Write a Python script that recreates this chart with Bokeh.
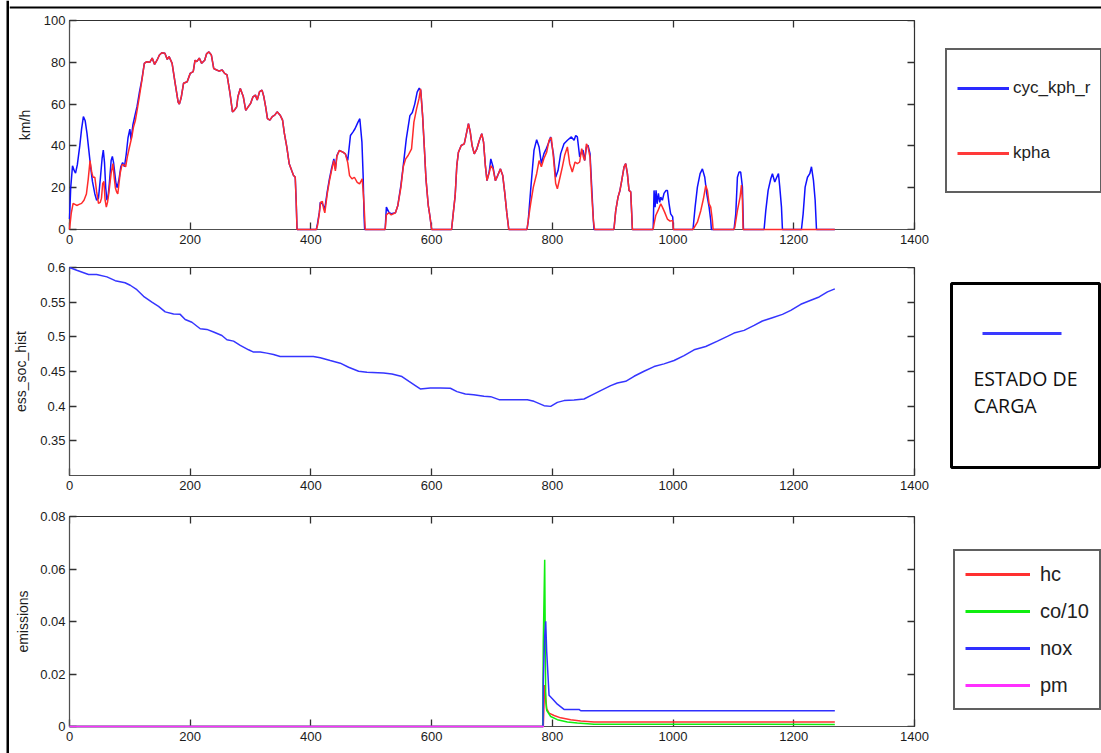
from bokeh.plotting import figure
from bokeh.models import Range1d, FixedTicker, LinearAxis, Legend, LegendItem, BoxAnnotation, Label, Arrow
from bokeh.layouts import row, column
from bokeh.embed import file_html
from bokeh.resources import INLINE

# ---------------- data (time [s], value) ----------------
cyc_kph_r = [
    (0, 5), (2, 20), (5, 30.5), (8, 28), (10, 27), (13, 31), (17, 40), (20, 48), (23, 54), (26, 52),
    (29, 46), (32, 38), (35, 30), (38, 23), (42, 17), (45, 14), (48, 15), (51, 24), (54, 34), (56, 38),
    (58, 32), (60, 20), (62, 14), (64, 16), (66, 22), (69, 33), (71, 35), (73, 32), (75, 27), (77, 22),
    (79, 20), (82, 24), (85, 30), (88, 32), (91, 30), (94, 36), (97, 44), (100, 48), (102, 43), (105, 50),
    (108, 54), (112, 59), (116, 66), (120, 72),
    (124, 79.5), (128, 80.3), (133, 80), (137, 82), (141, 79), (145, 81), (149, 83.5), (153, 84.6), (158, 84.3),
    (162, 81.4), (165, 82.7), (170, 79.5), (175, 70), (180, 61), (182, 60), (185, 63), (189, 70), (195, 70.7),
    (200, 74.7), (205, 75.5), (208, 81), (211, 80.3), (215, 82), (219, 79.5), (224, 81), (227, 84), (231, 85),
    (235, 83.5), (239, 77), (244, 76.3), (248, 75.8), (253, 76.3), (257, 74.7), (261, 74), (266, 65), (270, 56.3),
    (273, 57), (277, 58.7), (279, 63.5), (283, 67.5), (288, 63.5), (292, 57), (296, 58.7), (300, 60.3), (304, 63.5),
    (308, 64.3), (311, 62), (315, 66), (319, 66.7), (322, 63.5), (325, 58.7), (328, 53), (332, 52.3), (336, 54),
    (340, 54.7), (344, 56.3), (349, 54.7), (353, 52.3), (356, 46), (360, 39.5), (364, 31.5), (368, 28.3),
    (371, 26), (374, 25), (375.5, 14), (377, 0),
    (409, 0), (411, 3), (414, 8.3), (415.5, 13), (419, 12.3), (423, 10), (427, 18), (430.5, 24), (434, 29),
    (438, 33.8), (440.5, 29), (443, 35.4), (447, 37.8), (453, 37), (457, 36.2), (461, 33), (465.5, 45),
    (469.5, 46.6), (473, 48.2), (478, 51.4), (481, 53), (484.5, 41.8), (486.5, 25.8), (488, 6.7), (489, 0),
    (523, 0), (525, 10.7), (529, 8.3), (533, 7.5), (540, 8), (544, 11.5), (549, 21), (553, 30.6), (558, 43.4),
    (564, 54.5), (568, 56), (572, 60), (576, 65.7), (579.4, 67.6), (582, 66.5), (585, 54.5), (588, 38.6),
    (590.6, 24.2), (594.4, 11.5), (597, 6.7), (600, 0),
    (633, 0), (636, 8.3), (639, 16.3), (641.7, 30.6), (644.4, 37), (649, 40.2), (654, 41), (657, 45), (661, 50.6),
    (664, 46.6), (667, 40.2), (670.6, 36.2), (675, 38.6), (679, 42.6), (683, 45.8), (686, 41.8), (689, 30.6),
    (691.7, 23.4), (695.6, 28), (698, 33.8), (701.7, 30), (705.6, 23.4), (709.4, 25.8), (714, 29), (717.8, 25.8),
    (721, 17.9), (724.4, 8.3), (727.8, 0),
    (758, 0), (760, 4), (764, 18.7), (769.6, 38), (774, 43), (778, 39.5), (781.8, 31.5), (786, 36.3), (790, 38.7),
    (794.5, 42), (797, 44.3), (801.7, 36.3), (805.5, 25), (809.4, 28.2), (813.8, 36.3), (819.3, 41), (825, 42.7),
    (831.5, 44.3), (836, 42.7), (838.7, 45), (841.4, 44.3), (845.3, 34.7), (848, 37), (850.8, 38), (853.6, 33),
    (856.4, 39.5), (859, 40.3), (862.4, 36.3), (865.2, 20.3), (868, 4.3), (869, 0),
    (902, 0), (905, 9), (908.8, 15.5), (912, 18.7), (915, 23.5), (918.8, 30), (921.5, 31.5), (924.3, 26.7),
    (927, 18.7), (929.8, 18), (931.5, 7.5), (932.6, 0),
    (967, 0), (968.5, 18.7), (970.2, 10.7), (971.8, 18.7), (973.5, 12.3), (975.7, 17.3), (977.9, 13),
    (979.6, 15.5), (982.3, 14), (985, 17.3), (988.4, 18.7), (990.6, 18.7), (993.4, 12.3), (996, 7.5),
    (999.4, 6), (1000.5, 0),
    (1033, 0), (1036.5, 10.7), (1040.3, 20.3), (1044.8, 26.7), (1048.6, 29), (1052.5, 25), (1055.8, 17),
    (1059.7, 10.7), (1062.4, 4.3), (1063.5, 0),
    (1101, 0), (1103.9, 7.5), (1106.6, 25), (1109.4, 27.5), (1112, 27.5), (1114.9, 20.3), (1116.6, 0),
    (1150.8, 0), (1153.6, 9), (1157.5, 18.7), (1161.9, 24.3), (1164.6, 26.7), (1168.5, 22.7), (1171.8, 25),
    (1174.6, 26.7), (1176.8, 20.3), (1179.6, 10.7), (1181.2, 0),
    (1212.7, 0), (1215.5, 7.5), (1218.8, 20.3), (1222.7, 25), (1226.5, 26.7), (1229.3, 30), (1232.6, 23.5),
    (1235.4, 14), (1237.6, 0), (1268, 0),
]

kpha = [
    (0, 0), (3, 8), (6, 12.5), (9, 12), (12, 11.5), (16, 12), (20, 12.5), (24, 14), (28, 17), (31, 24),
    (34, 33), (37, 27), (39, 25), (42, 25), (45, 18), (48, 12.5), (51, 13), (53, 15), (55, 22), (57, 23),
    (59, 14), (61, 10.7), (63, 13), (65, 17), (67, 22), (69, 27), (72, 31.5), (74, 25), (76, 20), (78, 18),
    (80, 17), (82, 22), (84, 27), (87, 31), (90, 31), (93, 30), (96, 35), (99, 39), (103, 44), (106, 49),
    (109, 52), (112, 57), (116, 64), (120, 71.5),
    (124, 79.5), (128, 80.3), (133, 80), (137, 82), (141, 79), (145, 81), (149, 83.5), (153, 84.6), (158, 84.3),
    (162, 81.4), (165, 82.7), (170, 79.5), (175, 70), (180, 61), (182, 60), (185, 63), (189, 70), (195, 70.7),
    (200, 74.7), (205, 75.5), (208, 81), (211, 80.3), (215, 82), (219, 79.5), (224, 81), (227, 84), (231, 85),
    (235, 83.5), (239, 77), (244, 76.3), (248, 75.8), (253, 76.3), (257, 74.7), (261, 74), (266, 65), (270, 56.3),
    (273, 57), (277, 58.7), (279, 63.5), (283, 67.5), (288, 63.5), (292, 57), (296, 58.7), (300, 60.3), (304, 63.5),
    (308, 64.3), (311, 62), (315, 66), (319, 66.7), (322, 63.5), (325, 58.7), (328, 53), (332, 52.3), (336, 54),
    (340, 54.7), (344, 56.3), (349, 54.7), (353, 52.3), (356, 46), (360, 39.5), (364, 31.5), (368, 28.3),
    (371, 26), (374, 25), (375.5, 14), (377, 0),
    (409, 0), (411, 2), (414, 8), (416, 13), (419, 13.5), (421, 10), (423, 8), (427, 17), (430.5, 23),
    (434, 28), (438, 33), (440.5, 28), (443, 35), (447, 37.8), (453, 37), (457, 36.2), (461, 32), (464, 25.8),
    (468, 24.2), (472, 25), (476.7, 22.6), (480.6, 21.8), (485, 24.2), (487.8, 13), (490, 0),
    (523, 0), (525, 7), (529, 8), (533, 7), (540, 8), (544, 11.5), (549, 20), (553, 30), (557, 33.8),
    (561, 35.4), (566.7, 38.6), (570.6, 51.4), (575, 57.7), (579, 62.5), (581.7, 67.3), (585, 54.5),
    (588, 38.6), (590.6, 24.2), (594.4, 11.5), (597, 6.7), (600, 0),
    (633, 0), (636, 8.3), (639, 16.3), (641.7, 30.6), (644.4, 37), (649, 40.2), (654, 41), (657, 45), (661, 50.6),
    (664, 46.6), (667, 40.2), (670.6, 36.2), (675, 38.6), (679, 42.6), (683, 45.8), (686, 41.8), (689, 30.6),
    (691.7, 23.4), (695.6, 27.4), (698, 30.5), (701.7, 29), (705.6, 23.4), (709.4, 25.8), (714, 29), (717.8, 25.8),
    (721, 17.9), (724.4, 8.3), (727.8, 0),
    (758, 0), (760, 4.3), (764, 12.3), (768.5, 20.3), (774, 26.7), (778, 33), (781.8, 30), (786, 34),
    (790.6, 37), (794.5, 42.7), (798.3, 44), (801.7, 34.7), (805.5, 22), (808.3, 19.5), (812.7, 25),
    (816.6, 30), (820.4, 35.5), (824.9, 39.5), (828.7, 31.5), (833, 27.5), (837.6, 32.3), (841.4, 31.5),
    (845.3, 32.3), (848.6, 38.7), (851.4, 34.7), (853.6, 33), (856.4, 41), (859, 39.5), (862.4, 34.7),
    (865.2, 17), (868, 4.3), (870, 0),
    (902, 0), (905, 9), (908.8, 15.5), (912, 18.7), (915, 23.5), (918.8, 30), (921.5, 31.5), (924.3, 26.7),
    (927, 18.7), (929.8, 18), (931.5, 7.5), (932.6, 0),
    (967, 0), (968.5, 2.7), (971.3, 6.7), (975, 9), (979.6, 12.3), (982.3, 10.7), (986, 8.3), (990.6, 5),
    (995, 4), (999.4, 4.3), (1000.5, 0),
    (1033, 0), (1040.3, 3.5), (1045.9, 9), (1050.3, 14.7), (1054.1, 21), (1056.9, 18.7), (1059.7, 12.3),
    (1062.4, 10.7), (1065.2, 4.3), (1066.3, 0),
    (1101, 0), (1102.2, 1), (1106.6, 9), (1111, 15.5), (1113.3, 21.3), (1114.9, 14), (1116, 0),
    (1268, 0),
]

ess_soc_hist = [
    (0, 0.6), (12, 0.596), (31.5, 0.590), (45, 0.590), (62, 0.5865), (75.7, 0.581), (92, 0.578), (100.6, 0.5744),
    (111.6, 0.568), (122.7, 0.5585), (136.5, 0.550), (147.5, 0.544), (158.6, 0.536), (172.4, 0.533),
    (183.4, 0.5324), (191.7, 0.525), (202.8, 0.521), (216.6, 0.5117), (227.6, 0.5107), (238.7, 0.507),
    (252.5, 0.502), (260.8, 0.4958), (271.8, 0.4938), (282.9, 0.4876), (296.7, 0.4813), (305, 0.478),
    (316, 0.478), (327, 0.4765), (338, 0.4745), (349, 0.4716), (371, 0.4716), (404, 0.4716), (415.5, 0.4697),
    (432, 0.4658), (448.6, 0.462), (462.4, 0.4562), (479, 0.4504), (492.8, 0.449), (520.4, 0.448),
    (534.3, 0.4465), (550.8, 0.4427), (561.9, 0.436), (573, 0.4296), (581.2, 0.4248), (597.8, 0.4263),
    (614.4, 0.4263), (631, 0.4258), (642, 0.421), (655.8, 0.4176), (669.6, 0.4166), (686.7, 0.4142),
    (697.8, 0.4137), (711.6, 0.4094), (731, 0.4094), (758.6, 0.4094), (769.6, 0.407), (786.2, 0.4007),
    (797.2, 0.3997), (808.3, 0.4055), (819.3, 0.408), (835.9, 0.4089), (852.5, 0.4103), (863.5, 0.4152),
    (880, 0.4224), (896.7, 0.4296), (907.7, 0.4335), (921.5, 0.4359), (935.4, 0.4431), (951.9, 0.4504),
    (968.5, 0.4571), (985, 0.461), (1001.7, 0.4658), (1018.2, 0.473), (1034.8, 0.4813), (1054.1, 0.4861),
    (1073.5, 0.4938), (1090, 0.5006), (1101, 0.5054), (1117.7, 0.5093), (1134.3, 0.5165), (1148, 0.5228),
    (1164.6, 0.5276), (1181.2, 0.5324), (1195, 0.5382), (1211.6, 0.5469), (1228.2, 0.5527), (1242, 0.5575),
    (1255.8, 0.5648), (1268, 0.5691),
]

hc = [(0, 0), (785, 0), (787.3, 0.0158), (790.6, 0.0068), (794.5, 0.0051), (802.8, 0.0042), (813.8, 0.0033),
      (830.4, 0.0026), (847, 0.0021), (869, 0.0017), (1268, 0.0017)]
co_10 = [(0, 0), (784, 0), (785, 0.0324), (787.3, 0.0635), (789, 0.010), (790.6, 0.0062), (797.2, 0.0038),
         (808.3, 0.0026), (824.9, 0.0017), (841.4, 0.0013), (869, 0.0009), (1268, 0.0008)]
nox = [(0, 0), (784.5, 0), (785, 0.0177), (787.3, 0.0344), (789, 0.0401), (790.6, 0.0286), (792.3, 0.0215),
       (794.5, 0.0119), (800, 0.0106), (808.3, 0.0085), (819.3, 0.0065), (844.2, 0.0065), (847, 0.006),
       (1268, 0.006)]
pm = [(0, 0), (786, 0)]

x_ticks = [0, 200, 400, 600, 800, 1000, 1200, 1400]
x_tick_labels = ["0", "200", "400", "600", "800", "1000", "1200", "1400"]
speed_ticks = [0, 20, 40, 60, 80, 100]
speed_tick_labels = ["0", "20", "40", "60", "80", "100"]
soc_ticks = [0.35, 0.4, 0.45, 0.5, 0.55, 0.6]
soc_tick_labels = ["0.35", "0.4", "0.45", "0.5", "0.55", "0.6"]
em_ticks = [0, 0.02, 0.04, 0.06, 0.08]
em_tick_labels = ["0", "0.02", "0.04", "0.06", "0.08"]

FONT = "Liberation Sans"
TXT = "#1c1c1c"
NAN = float("nan")


def unzip(pairs):
    return [p[0] for p in pairs], [p[1] for p in pairs]


def blank_fig(width, height):
    f = figure(width=width, height=height, x_range=Range1d(0, width), y_range=Range1d(0, height),
               output_backend="svg", toolbar_location=None, min_border=0,
               x_axis_location=None, y_axis_location=None)
    f.outline_line_color = None
    f.grid.visible = False
    f.background_fill_color = "white"
    f.border_fill_color = "white"
    return f


def rule_fig(width, height, left, right, bottom, top):
    # page-frame rule (black bar) in its own thin strip
    f = blank_fig(width, height)
    f.add_layout(BoxAnnotation(left=left, right=right, bottom=bottom, top=top, fill_color="black",
                               fill_alpha=1.0, line_color=None))
    return f


def box_axis(ticks, loc):
    # tick marks only (no labels) on the top / right edges, MATLAB box style
    return LinearAxis(ticker=FixedTicker(ticks=ticks), fixed_location=loc, major_tick_in=7, major_tick_out=0,
                      minor_tick_in=0, minor_tick_out=0, axis_line_color=None,
                      major_tick_line_color="#303030", major_tick_line_width=1.3,
                      major_label_text_color=None, major_label_standoff=0)


def main_fig(height, yr, top, bottom, yticks, ylabels, ylabel, lab_standoff):
    p = figure(width=926, height=height, x_range=Range1d(0, 1400), y_range=Range1d(*yr),
               output_backend="svg", toolbar_location=None,
               min_border_left=60, min_border_right=21, min_border_top=top, min_border_bottom=bottom)
    p.grid.visible = False
    p.outline_line_color = "#303030"
    p.outline_line_width = 1.2
    p.background_fill_color = "white"
    p.border_fill_color = "white"
    p.xaxis.ticker = FixedTicker(ticks=x_ticks)
    p.xaxis.major_label_overrides = dict(zip(x_ticks, x_tick_labels))
    p.yaxis.ticker = FixedTicker(ticks=yticks)
    p.yaxis.major_label_overrides = dict(zip(yticks, ylabels))
    for ax in (p.xaxis[0], p.yaxis[0]):
        ax.major_tick_in = 7
        ax.major_tick_out = 0
        ax.minor_tick_in = 0
        ax.minor_tick_out = 0
        ax.major_tick_line_color = "#303030"
        ax.major_tick_line_width = 1.3
        ax.axis_line_color = "#505050"
        ax.major_label_text_font = FONT
        ax.major_label_text_font_size = "13px"
        ax.major_label_text_color = TXT
    p.xaxis.major_label_standoff = 5
    p.yaxis.major_label_standoff = 4
    p.yaxis.axis_label = ylabel
    p.yaxis.axis_label_text_font = FONT
    p.yaxis.axis_label_text_font_size = "14px"
    p.yaxis.axis_label_text_font_style = "normal"
    p.yaxis.axis_label_text_color = TXT
    p.yaxis.axis_label_standoff = lab_standoff
    p.add_layout(box_axis(x_ticks, yr[1]), "above")
    p.add_layout(box_axis(yticks, 1400), "right")
    return p


# ---------------- speed ----------------
p1 = main_fig(240, (0, 100), 10, 21, speed_ticks, speed_tick_labels, "km/h", 8)
tb, vb = unzip(cyc_kph_r)
tr, vr = unzip(kpha)
p1.line(tb, vb, line_color="#1010ff", line_width=1.5, level="overlay")
p1.line(tr, vr, line_color="#ff2b2b", line_width=1.5, level="overlay")

# ---------------- state of charge ----------------
p2 = main_fig(247, (0.3, 0.6), 17, 22, soc_ticks, soc_tick_labels, "ess_soc_hist", 8)
ts, vs = unzip(ess_soc_hist)
p2.line(ts, vs, line_color="#3535ff", line_width=1.5, level="overlay")

# ---------------- emissions ----------------
p3 = main_fig(256, (0, 0.08), 19, 27, em_ticks, em_tick_labels, "emissions", 6)
em_colors = {"hc": "#ff3030", "co/10": "#10ee10", "nox": "#3030ff", "pm": "#ff30ff"}
for name, series in (("hc", hc), ("co/10", co_10), ("nox", nox), ("pm", pm)):
    tx, vx = unzip(series)
    p3.line(tx, vx, line_color=em_colors[name], line_width=1.5, level="overlay")

# ---------------- legends ----------------
l1 = blank_fig(166, 240)
d_b = l1.line(x=[NAN], y=[NAN], line_color="#2a2aff", line_width=3)
d_r = l1.line(x=[NAN], y=[NAN], line_color="#ff3a3a", line_width=3)
leg1 = Legend(items=[LegendItem(label="cyc_kph_r", renderers=[d_b]), LegendItem(label="kpha", renderers=[d_r])],
              location=(10, 57), padding=10, spacing=9, label_height=56, glyph_height=56, glyph_width=52,
              label_standoff=4, label_text_font=FONT, label_text_font_size="17px", label_text_color="#222222",
              border_line_color="#606060", border_line_width=2, border_line_alpha=1.0,
              background_fill_color="white", background_fill_alpha=1.0, margin=0)
l1.add_layout(leg1, "center")

l2 = blank_fig(166, 247)
l2.add_layout(BoxAnnotation(left=16, right=164, bottom=30, top=214, fill_alpha=0, fill_color=None,
                            line_color="black", line_alpha=1.0, line_width=3))
l2.add_layout(Arrow(end=None, x_start=47, y_start=164, x_end=126, y_end=164, line_color="#3a3aff", line_width=3))
l2.add_layout(Label(x=38, y=119.5, text="ESTADO DE", text_baseline="middle", text_font="Open Sans",
                    text_font_size="19.5px", text_color="#111111"))
l2.add_layout(Label(x=38, y=92, text="CARGA", text_baseline="middle", text_font="Open Sans",
                    text_font_size="19.5px", text_color="#111111"))

l3 = blank_fig(166, 256)
items3 = []
for name in ("hc", "co/10", "nox", "pm"):
    r = l3.line(x=[NAN], y=[NAN], line_color=em_colors[name], line_width=3)
    items3.append(LegendItem(label=name, renderers=[r]))
leg3 = Legend(items=items3, location=(18, 43), padding=10, spacing=11, label_height=26, glyph_height=26,
              glyph_width=65, label_standoff=10, label_width=48, label_text_font=FONT,
              label_text_font_size="20px", label_text_color="#222222",
              border_line_color="#606060", border_line_width=2, border_line_alpha=1.0,
              background_fill_color="white", background_fill_alpha=1.0, margin=0)
l3.add_layout(leg3, "center")

# page-frame rules: left vertical bar and top horizontal bar
left_rule = rule_fig(9, 753, 6, 9, 0, 753)
top_rule = rule_fig(1092, 10, 0, 1092, 4, 6)

layout = row(left_rule, column(top_rule, row(column(p1, p2, p3), column(l1, l2, l3))))
open("out.html", "w").write(file_html(layout, INLINE))
